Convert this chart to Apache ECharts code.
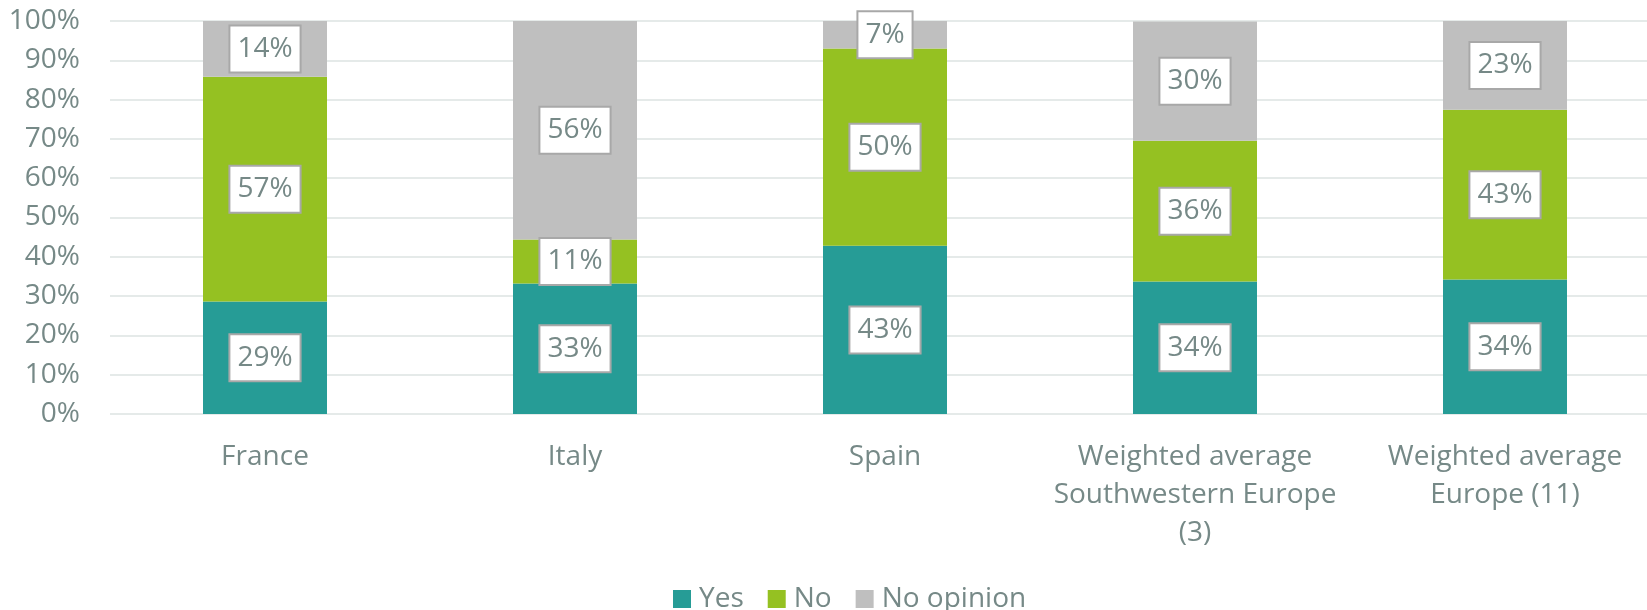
<!DOCTYPE html>
<html>
<head>
<meta charset="utf-8">
<script src="https://cdn.jsdelivr.net/npm/echarts@6/dist/echarts.min.js"></script>
<style>
html,body{margin:0;padding:0;background:#fff;}
#chart{width:1647px;height:610px;}
</style>
</head>
<body>
<div id="chart"></div>
<script>
const categories = ['France', 'Italy', 'Spain', 'Weighted average\nSouthwestern Europe\n(3)', 'Weighted average\nEurope (11)'];
const yesValues = [28.6, 33.2, 42.8, 33.7, 34.2];
const noValues = [57.2, 11.2, 50.2, 35.8, 43.2];
const noOpinionValues = [14.2, 55.6, 7.0, 30.4, 22.6];
const seriesNames = ['Yes', 'No', 'No opinion'];
const yTicks = [0, 10, 20, 30, 40, 50, 60, 70, 80, 90, 100];

const FONT = '"Open Sans", sans-serif';
const TXT = '#768987';
const colors = ['#269C96', '#95C122', '#BFBFBF'];

const label = {
  show: true,
  position: 'inside',
  formatter: p => Math.round(p.value) + '%',
  fontFamily: FONT,
  fontSize: 28,
  color: TXT,
  backgroundColor: '#ffffff',
  borderColor: '#A8A8A8',
  borderWidth: 2,
  padding: [6, 7, 5, 7],
  lineHeight: 34
};

function mk(name, data, i) {
  return {
    name: name,
    type: 'bar',
    stack: 'total',
    data: data,
    barWidth: '40%',
    itemStyle: { color: colors[i] },
    label: label,
    emphasis: { disabled: true }
  };
}

const chart = echarts.init(document.getElementById('chart'), null, { renderer: 'canvas' });
chart.setOption({
  animation: false,
  textStyle: { fontFamily: FONT },
  grid: { left: 110, width: 1550, top: 21, bottom: 196, containLabel: false, outerBoundsMode: 'none' },
  legend: {
    data: seriesNames,
    left: 668,
    top: 580,
    icon: 'rect',
    itemWidth: 18,
    itemHeight: 18,
    itemGap: 24,
    textStyle: { fontFamily: FONT, fontSize: 28, color: TXT, padding: [0, 0, 0, 3] }
  },
  xAxis: {
    type: 'category',
    data: categories,
    axisLine: { show: false },
    axisTick: { show: false },
    axisLabel: {
      fontFamily: FONT, fontSize: 28, color: TXT, lineHeight: 38, margin: 24, interval: 0
    }
  },
  yAxis: {
    type: 'value',
    min: 0,
    max: 100,
    interval: 10,
    axisLine: { show: false },
    axisTick: { show: false },
    splitLine: { lineStyle: { color: '#DDE3E2', width: 1.5 } },
    axisLabel: {
      fontFamily: FONT, fontSize: 28, color: TXT, margin: 30,
      formatter: v => (yTicks.indexOf(v) >= 0 ? v + '%' : '')
    }
  },
  series: [
    mk(seriesNames[0], yesValues, 0),
    mk(seriesNames[1], noValues, 1),
    mk(seriesNames[2], noOpinionValues, 2)
  ]
});
</script>
</body>
</html>
